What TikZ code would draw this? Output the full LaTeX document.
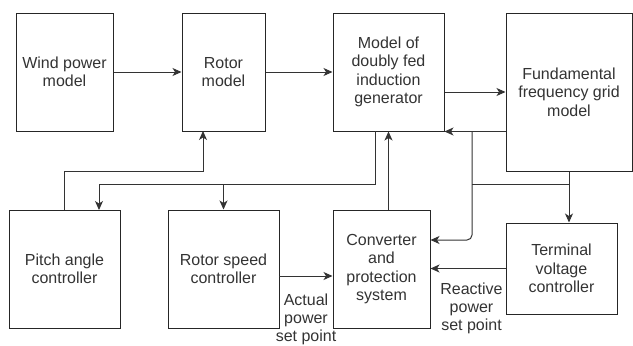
\documentclass[tikz,border=0pt]{standalone}
\usepackage{fontspec}
\setmainfont{Liberation Sans}
\usetikzlibrary{arrows.meta}
\begin{document}
\begin{tikzpicture}[x=1pt, y=-1pt,
	block/.style={draw=black!85, line width=1pt, inner sep=0pt, align=center,
		text=black!80, font=\fontsize{16}{18.5}\selectfont},
	link/.style={draw=black!80, line width=1pt},
	arr/.style={link, -{Stealth[length=9pt, width=8pt, inset=2.5pt]}},
	note/.style={align=center, text=black!80, inner sep=0pt, font=\fontsize{16}{18}\selectfont}]
	\useasboundingbox (0,0) rectangle (633,346);
	% 1. Khoi tren
	\node[block, minimum width=97pt, minimum height=118pt] (wind) at (64.5,72) {Wind power\\model};
	\node[block, minimum width=83pt, minimum height=118pt] (rotor) at (223.5,72) {Rotor\\model};
	\node[block, minimum width=111pt, minimum height=118pt] (dfig) at (388.5,72) {Model of\\doubly fed\\induction\\generator};
	\node[block, minimum width=126pt, minimum height=158pt] (grid) at (569,92) {Fundamental\\frequency grid\\model};
	% 2. Khoi duoi
	\node[block, minimum width=111pt, minimum height=118pt] (pitch) at (64.5,269) {Pitch angle\\controller};
	\node[block, minimum width=111pt, minimum height=118pt] (speed) at (223.5,269) {Rotor speed\\controller};
	\node[block, minimum width=97pt, minimum height=118pt] (conv) at (381.5,269) {Converter\\and\\protection\\system};
	\node[block, minimum width=111pt, minimum height=91pt] (term) at (561.5,268.5) {Terminal\\voltage\\controller};
	% 3. Diem phu
	\coordinate (tap) at (472,131);
	\coordinate (dfigout) at (375,131);
	\coordinate (pitchin) at (99,210);
	\coordinate (rotorin) at (203,131);
	\coordinate (speedout) at (279,276);
	% 4. Mui ten hang tren
	\draw[arr] (wind.east) -- (rotor.west);
	\draw[arr] (rotor.east) -- (dfig.west);
	\draw[arr] (dfig.east |- grid.west) -- (grid.west);
	\draw[arr] (grid.west |- dfig.south east) -- (dfig.south east);
	% 5. Nhanh xuong bo dieu khien
	\draw[arr, rounded corners=5pt] (tap) -- (472,240) -- (conv.east |- 0,240);
	\draw[link] (tap |- 0,184) -- (grid.south |- 0,184);
	\draw[arr] (grid.south) -- (grid.south |- term.north);
	\draw[arr] (dfigout) -- (375,184) -- (pitchin |- 0,184) -- (pitchin);
	\draw[arr] (speed.north |- 0,184) -- (speed.north);
	\draw[arr] (pitch.north) -- (64.5,171) -- (rotorin |- 0,171) -- (rotorin);
	\draw[arr] (conv.north -| dfig.south) -- (dfig.south);
	% 6. Diem dat
	\draw[arr] (speedout) -- (conv.west |- speedout);
	\draw[arr] (term.west) -- (conv.east |- term.west);
	\node[note] (actual) at (306,319) {Actual\\power\\set point};
	\node[note] (reactive) at (471.5,308) {Reactive\\power\\set point};
\end{tikzpicture}
\end{document}
